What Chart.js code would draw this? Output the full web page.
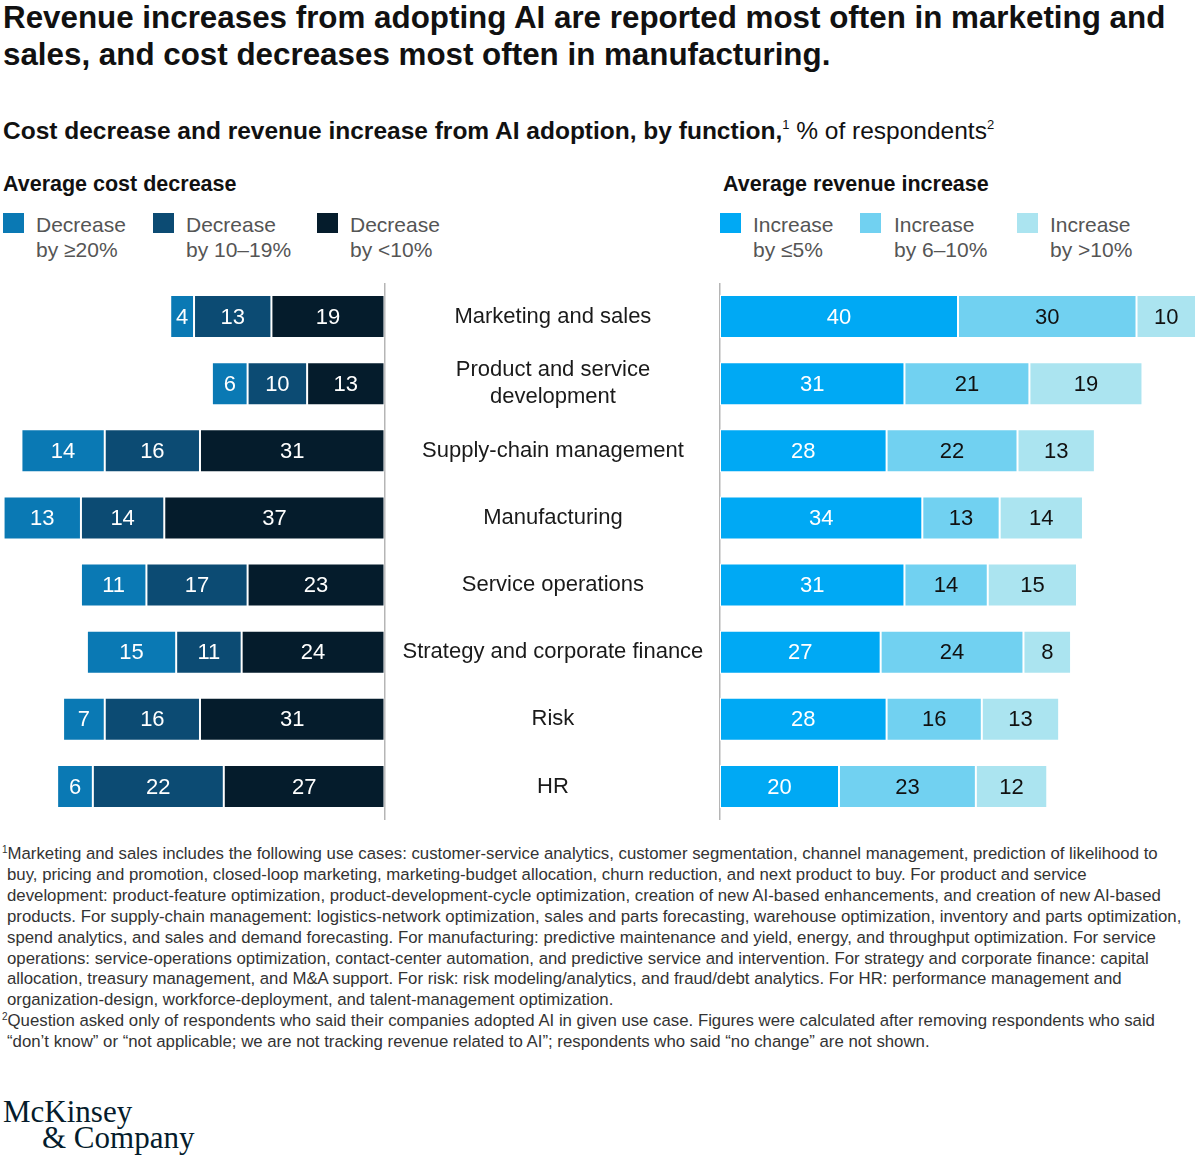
<!DOCTYPE html>
<html>
<head>
<meta charset="utf-8">
<script src="https://cdn.jsdelivr.net/npm/chart.js@4.4.0/dist/chart.umd.min.js"></script>
<style>
  body { margin: 0; width: 1200px; height: 1163px; background: #fff; position: relative; overflow: hidden;
         font-family: "Liberation Sans", Arial, sans-serif; color: #111; }
  .abs { position: absolute; white-space: nowrap; }
  #title { left: 3px; top: -1px; font-size: 31.35px; line-height: 37px; font-weight: bold; }
  #subtitle { left: 3px; top: 117px; font-size: 24.5px; line-height: 28px; }
  #subtitle b { font-weight: bold; }
  #subtitle sup { font-size: 13px; vertical-align: 10px; line-height: 0; }
  .panel-title { top: 171px; font-size: 21.5px; line-height: 26px; font-weight: bold; }
  .swatch { position: absolute; top: 213px; width: 21px; height: 20px; }
  .leg { position: absolute; top: 212px; font-size: 21px; line-height: 25px; color: #555; white-space: nowrap; }
  .chart-box { position: absolute; top: 283px; height: 537px; }
  #notes { left: 7px; top: 844px; font-size: 16.8px; line-height: 20.9px; color: #333; }
  #notes sup { font-size: 10px; vertical-align: 6px; line-height: 0; margin-left: -5px; }
  #logo { left: 3px; top: 1099px; font-family: "Liberation Serif", "Times New Roman", serif; font-size: 31px;
          line-height: 26px; color: #051c2c; }
</style>
</head>
<body>

<div id="title" class="abs">Revenue increases from adopting AI are reported most often in marketing and<br>sales, and cost decreases most often in manufacturing.</div>

<div id="subtitle" class="abs"><b>Cost decrease and revenue increase from AI adoption, by function,</b><sup>1</sup> % of respondents<sup>2</sup></div>

<div class="abs panel-title" style="left:3px">Average cost decrease</div>
<div class="abs panel-title" style="left:723px">Average revenue increase</div>

<div id="legend-cost"></div>
<div id="legend-revenue"></div>

<div class="chart-box" style="left:0; width:720px"><canvas id="costChart"></canvas></div>
<div class="chart-box" style="left:719px; width:481px"><canvas id="revenueChart"></canvas></div>

<div id="notes" class="abs"><sup>1</sup>Marketing and sales includes the following use cases: customer-service analytics, customer segmentation, channel management, prediction of likelihood to<br>buy, pricing and promotion, closed-loop marketing, marketing-budget allocation, churn reduction, and next product to buy. For product and service<br>development: product-feature optimization, product-development-cycle optimization, creation of new AI-based enhancements, and creation of new AI-based<br>products. For supply-chain management: logistics-network optimization, sales and parts forecasting, warehouse optimization, inventory and parts optimization,<br>spend analytics, and sales and demand forecasting. For manufacturing: predictive maintenance and yield, energy, and throughput optimization. For service<br>operations: service-operations optimization, contact-center automation, and predictive service and intervention. For strategy and corporate finance: capital<br>allocation, treasury management, and M&amp;A support. For risk: risk modeling/analytics, and fraud/debt analytics. For HR: performance management and<br>organization-design, workforce-deployment, and talent-management optimization.<br><sup>2</sup>Question asked only of respondents who said their companies adopted AI in given use case. Figures were calculated after removing respondents who said<br>“don’t know” or “not applicable; we are not tracking revenue related to AI”; respondents who said “no change” are not shown.</div>

<div id="logo" class="abs">McKinsey<br><span style="padding-left:39px">&amp; Company</span></div>

<script>
// Functions, top to bottom
const functions = [
    'Marketing and sales',
    ['Product and service', 'development'],
    'Supply-chain management',
    'Manufacturing',
    'Service operations',
    'Strategy and corporate finance',
    'Risk',
    'HR'
];

// Average cost decrease, % of respondents
const decrease20Plus = [4, 6, 14, 13, 11, 15, 7, 6];
const decrease10to19 = [13, 10, 16, 14, 17, 11, 16, 22];
const decreaseUnder10 = [19, 13, 31, 37, 23, 24, 31, 27];

// Average revenue increase, % of respondents
const increaseUpTo5 = [40, 31, 28, 34, 31, 27, 28, 20];
const increase6to10 = [30, 21, 22, 13, 14, 24, 16, 23];
const increaseOver10 = [10, 19, 13, 14, 15, 8, 13, 12];

const costLegend = [
    ['Decrease', 'by ≥20%'],
    ['Decrease', 'by 10–19%'],
    ['Decrease', 'by <10%']
];
const revenueLegend = [
    ['Increase', 'by ≤5%'],
    ['Increase', 'by 6–10%'],
    ['Increase', 'by >10%']
];

const FONT = '"Liberation Sans", Arial, sans-serif';
const costColors = ['#0a79b4', '#0c4b73', '#051c2c'];
const revenueColors = ['#00a9f4', '#71d1f1', '#abe4f0'];

// Function to draw an HTML legend row
function drawLegend(id, items, colors, swatchX, textX) {
    const holder = document.getElementById(id);
    items.forEach((lines, i) => {
        const sw = document.createElement('div');
        sw.className = 'swatch';
        sw.style.left = swatchX[i] + 'px';
        sw.style.background = colors[i];
        holder.appendChild(sw);
        const txt = document.createElement('div');
        txt.className = 'leg';
        txt.style.left = textX[i] + 'px';
        txt.innerHTML = lines.join('<br>');
        holder.appendChild(txt);
    });
}
drawLegend('legend-cost', costLegend, costColors, [3, 153, 317], [36, 186, 350]);
drawLegend('legend-revenue', revenueLegend, revenueColors, [720, 860, 1017], [753, 894, 1050]);

// Plugin: value in the middle of each bar segment
const segmentLabels = {
    id: 'segmentLabels',
    afterDatasetsDraw(chart) {
        const ctx = chart.ctx;
        chart.data.datasets.forEach((ds, i) => {
            const meta = chart.getDatasetMeta(i);
            meta.data.forEach((bar, j) => {
                ctx.save();
                ctx.fillStyle = ds.labelColor;
                ctx.font = '22px ' + FONT;
                ctx.textAlign = 'center';
                ctx.textBaseline = 'middle';
                ctx.fillText(String(ds.data[j]), (bar.x + bar.base) / 2, bar.y + 1);
                ctx.restore();
            });
        });
    }
};

function makeDataset(label, data, color, labelColor) {
    return {
        label: label,
        data: data,
        backgroundColor: color,
        borderColor: '#ffffff',
        borderWidth: 1,
        borderSkipped: false,
        barPercentage: 0.64,
        categoryPercentage: 1,
        labelColor: labelColor
    };
}

// Cost chart: bars grow to the left, function names sit on its right-hand axis
new Chart(document.getElementById('costChart'), {
    type: 'bar',
    data: {
        labels: functions,
        datasets: [
            makeDataset('Decrease by <10%', decreaseUnder10, costColors[2], '#ffffff'),
            makeDataset('Decrease by 10–19%', decrease10to19, costColors[1], '#ffffff'),
            makeDataset('Decrease by ≥20%', decrease20Plus, costColors[0], '#ffffff')
        ]
    },
    options: {
        indexAxis: 'y',
        responsive: true,
        maintainAspectRatio: false,
        animation: false,
        layout: { padding: 0 },
        plugins: { legend: { display: false }, tooltip: { enabled: false } },
        scales: {
            x: { stacked: true, reverse: true, min: 0, max: 64.6, display: false },
            y: {
                stacked: true,
                position: 'right',
                grid: { display: false },
                border: { display: true, color: '#b5b5b5', width: 1.5 },
                ticks: {
                    crossAlign: 'center',
                    padding: 10,
                    color: '#1a1a1a',
                    font: { family: FONT, size: 22, lineHeight: 1.23 }
                },
                afterFit(scale) {
                    scale.width = 335.5;
                    scale.paddingTop = 0;
                    scale.paddingBottom = 0;
                }
            }
        }
    },
    plugins: [segmentLabels]
});

// Revenue chart: bars grow to the right
new Chart(document.getElementById('revenueChart'), {
    type: 'bar',
    data: {
        labels: functions,
        datasets: [
            makeDataset('Increase by ≤5%', increaseUpTo5, revenueColors[0], '#ffffff'),
            makeDataset('Increase by 6–10%', increase6to10, revenueColors[1], '#111111'),
            makeDataset('Increase by >10%', increaseOver10, revenueColors[2], '#111111')
        ]
    },
    options: {
        indexAxis: 'y',
        responsive: true,
        maintainAspectRatio: false,
        animation: false,
        layout: { padding: 0 },
        plugins: { legend: { display: false }, tooltip: { enabled: false } },
        scales: {
            x: { stacked: true, min: 0, max: 80.67, display: false },
            y: {
                stacked: true,
                grid: { display: false },
                border: { display: true, color: '#b5b5b5', width: 1.5 },
                ticks: { display: false },
                afterFit(scale) {
                    scale.width = 1;
                }
            }
        }
    },
    plugins: [segmentLabels]
});
</script>
</body>
</html>
